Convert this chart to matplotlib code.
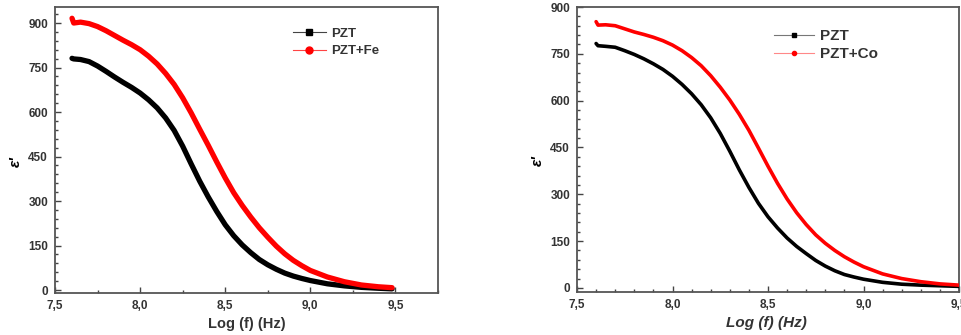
import matplotlib
matplotlib.use("Agg")
import matplotlib.pyplot as plt
from matplotlib.lines import Line2D
from matplotlib.ticker import MultipleLocator, FuncFormatter

plt.rcParams['font.family'] = ['Liberation Sans', 'DejaVu Sans']

# left panel: PZT vs PZT+Fe
logf_fe = [7.60, 7.61, 7.65, 7.70, 7.75, 7.80, 7.85, 7.90, 7.95, 8.00, 8.05, 8.10, 8.15,
           8.20, 8.25, 8.30, 8.35, 8.40, 8.45, 8.50, 8.55, 8.60, 8.65, 8.70, 8.75, 8.80,
           8.85, 8.90, 8.95, 9.00, 9.10, 9.20, 9.30, 9.40, 9.48]
pzt_left = [781, 779, 777, 770, 755, 737, 718, 700, 683, 664, 641, 614, 580,
            538, 485, 425, 367, 314, 265, 220, 183, 152, 126, 103, 85, 70,
            57, 47, 39, 32, 21, 14, 9, 6, 4]
pzt_fe = [916, 900, 903, 898, 888, 874, 858, 842, 827, 810, 788, 762, 730,
          693, 648, 597, 542, 488, 432, 378, 328, 285, 246, 210, 178, 148,
          122, 100, 82, 66, 44, 28, 17, 11, 8]

# right panel: PZT vs PZT+Co
logf_co = [7.60, 7.61, 7.65, 7.70, 7.75, 7.80, 7.85, 7.90, 7.95, 8.00, 8.05, 8.10, 8.15,
           8.20, 8.25, 8.30, 8.35, 8.40, 8.45, 8.50, 8.55, 8.60, 8.65, 8.70, 8.75, 8.80,
           8.85, 8.90, 8.95, 9.00, 9.10, 9.20, 9.30, 9.40, 9.50]
pzt_right = [783, 776, 774, 771, 760, 748, 734, 718, 700, 678, 652, 622, 587,
             545, 495, 438, 378, 322, 271, 228, 192, 160, 133, 110, 88, 70,
             55, 43, 35, 28, 18, 12, 9, 7, 5]
pzt_co = [853, 842, 843, 840, 830, 820, 812, 803, 792, 778, 760, 738, 712,
          680, 643, 602, 556, 505, 448, 390, 335, 285, 241, 203, 170, 143,
          120, 100, 83, 68, 45, 30, 20, 13, 9]

x_ticks = [7.5, 8.0, 8.5, 9.0, 9.5]
y_ticks = [0, 150, 300, 450, 600, 750, 900]

comma = FuncFormatter(lambda v, p: f"{v:.1f}".replace('.', ','))


def style_axes(ax, xminor, tick_size):
    for s in ax.spines.values():
        s.set_color('#555555')
        s.set_linewidth(1.3)
    ax.set_xticks(x_ticks)
    ax.set_yticks(y_ticks)
    ax.xaxis.set_major_formatter(comma)
    ax.xaxis.set_minor_locator(MultipleLocator(xminor))
    ax.yaxis.set_minor_locator(MultipleLocator(30))
    ax.tick_params(which='both', direction='in', colors='#444444',
                   labelcolor='#333333', labelsize=tick_size, width=1, pad=5)
    ax.tick_params(which='major', length=4)
    ax.tick_params(which='minor', length=2.5)
    for lab in ax.get_xticklabels() + ax.get_yticklabels():
        lab.set_fontweight('bold')


fig = plt.figure(figsize=(9.61, 3.35), dpi=100)

# ---- left ----
ax1 = fig.add_axes([55 / 961, 42 / 335, 383 / 961, 286 / 335])
ax1.plot(logf_fe, pzt_left, color='black', lw=3.8, solid_capstyle='round',
         solid_joinstyle='round', zorder=3)
ax1.plot(logf_fe, pzt_fe, color='#ff0000', lw=3.8, solid_capstyle='round',
         solid_joinstyle='round', zorder=4)
ax1.set_xlim(7.5, 9.75)
ax1.set_ylim(-10, 954)
style_axes(ax1, 0.25, 8.5)
ax1.set_xlabel('Log (f) (Hz)', fontsize=10.5, fontweight='bold', color='#333333')
ax1.set_ylabel("ε'", fontsize=11, fontstyle='italic', fontweight='bold')
ax1.xaxis.set_label_coords(0.50, -0.085)
ax1.yaxis.set_label_coords(-0.085, 0.46)
h1 = [Line2D([], [], color='#444444', lw=0.8, marker='s', ms=4.5, mfc='black', mec='black'),
      Line2D([], [], color='#ff4444', lw=0.8, marker='o', ms=5, mfc='#ff0000', mec='#ff0000')]
leg1 = ax1.legend(h1, ['PZT', 'PZT+Fe'], loc='upper left', bbox_to_anchor=(0.59, 0.97),
                  frameon=False, prop={'weight': 'bold', 'size': 9.5},
                  handlelength=2.5, handletextpad=0.4, labelspacing=0.4)
for t in leg1.get_texts():
    t.set_color('#333333')

# ---- right ----
ax2 = fig.add_axes([577 / 961, 43 / 335, 382 / 961, 285 / 335])
ax2.plot(logf_co, pzt_right, color='black', lw=2.6, solid_capstyle='round',
         solid_joinstyle='round', zorder=3)
ax2.plot(logf_co, pzt_co, color='#ff0000', lw=2.6, solid_capstyle='round',
         solid_joinstyle='round', zorder=4)
ax2.set_xlim(7.5, 9.5)
ax2.set_ylim(-13, 900)
style_axes(ax2, 0.1, 8.5)
ax2.set_xlabel('Log (f) (Hz)', fontsize=11, fontweight='bold', fontstyle='italic',
               color='#333333')
ax2.set_ylabel("ε'", fontsize=11, fontstyle='italic', fontweight='bold')
ax2.xaxis.set_label_coords(0.497, -0.085)
ax2.yaxis.set_label_coords(-0.085, 0.46)
h2 = [Line2D([], [], color='#777777', lw=0.8, marker='s', ms=2.5, mfc='black', mec='black'),
      Line2D([], [], color='#ff8888', lw=0.8, marker='o', ms=3, mfc='#ff0000', mec='#ff0000')]
leg2 = ax2.legend(h2, ['PZT', 'PZT+Co'], loc='upper left', bbox_to_anchor=(0.48, 0.97),
                  frameon=False, prop={'weight': 'bold', 'size': 11},
                  handlelength=2.6, handletextpad=0.4, labelspacing=0.25)
for t in leg2.get_texts():
    t.set_color('#333333')

fig.savefig('out.png', dpi=100)
